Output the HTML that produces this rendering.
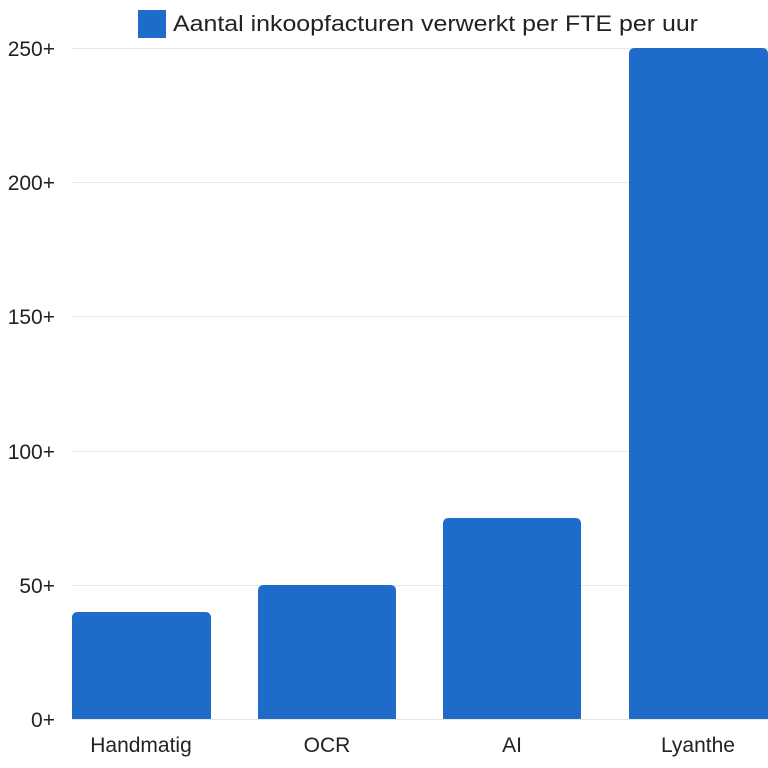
<!DOCTYPE html>
<html><head><style>body{margin:0;background:#fff}svg{display:block}</style></head><body>
<svg width="768" height="768" xmlns="http://www.w3.org/2000/svg" font-family="Liberation Sans, sans-serif" fill="#222">
<g stroke="#e6e6e6" stroke-width="1">
<line x1="72" x2="768" y1="48.5" y2="48.5"/><line x1="72" x2="768" y1="182.5" y2="182.5"/>
<line x1="72" x2="768" y1="316.5" y2="316.5"/><line x1="72" x2="768" y1="451.5" y2="451.5"/>
<line x1="72" x2="768" y1="585.5" y2="585.5"/><line x1="72" x2="768" y1="719.5" y2="719.5"/>
</g>
<g font-size="21" text-anchor="end">
<text x="55" y="56">250+</text><text x="55" y="190">200+</text><text x="55" y="324">150+</text>
<text x="55" y="459">100+</text><text x="55" y="593">50+</text><text x="55" y="727">0+</text>
</g>
<g fill="#1f6bc9">
<path d="M72 719V618q0-6 6-6h127q6 0 6 6V719z"/>
<path d="M258 719V591q0-6 6-6h126q6 0 6 6V719z"/>
<path d="M443 719V524q0-6 6-6h126q6 0 6 6V719z"/>
<path d="M629 719V54q0-6 6-6h127q6 0 6 6V719z"/>
<rect x="138" y="10" width="28" height="28"/>
</g>
<g font-size="21" text-anchor="middle">
<text x="141" y="752">Handmatig</text><text x="327" y="752">OCR</text>
<text x="512" y="752">AI</text><text x="698" y="752">Lyanthe</text>
</g>
<text x="173" y="31" font-size="22" textLength="525" lengthAdjust="spacingAndGlyphs">Aantal inkoopfacturen verwerkt per FTE per uur</text>
</svg>
</body></html>
